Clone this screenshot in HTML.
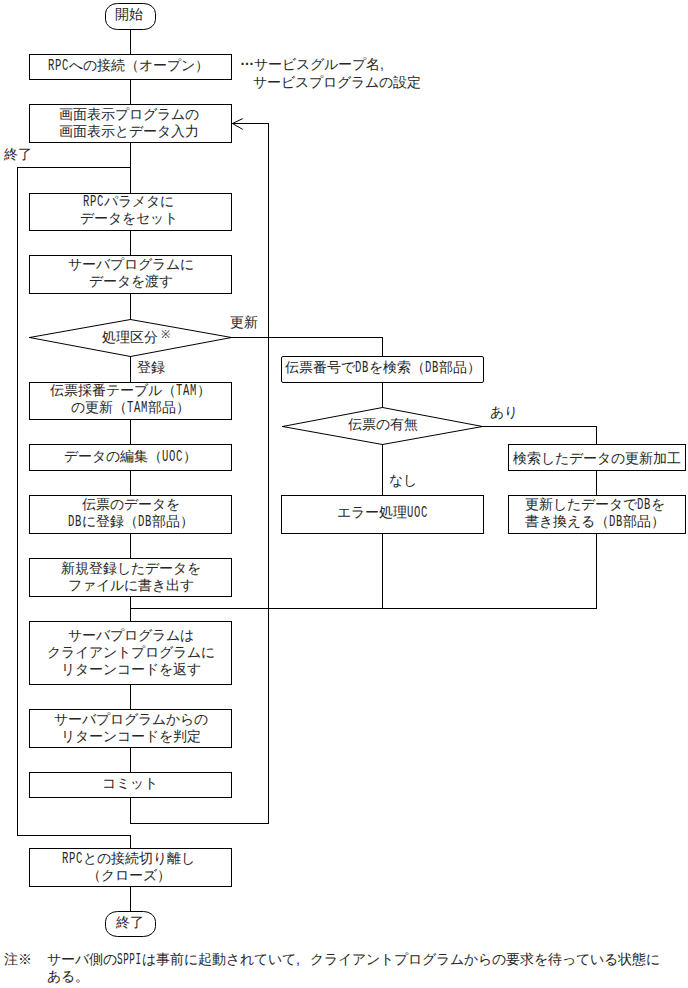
<!DOCTYPE html>
<html><head><meta charset="utf-8"><style>
html,body{margin:0;padding:0;background:#fff;}
body{width:688px;height:988px;position:relative;overflow:hidden;font-family:"Liberation Sans",sans-serif;font-size:14px;line-height:17px;color:#000;}
svg{position:absolute;left:0;top:0;}
svg rect{fill:#000;}
svg .s{fill:none;stroke:#000;stroke-width:1;}
.t{position:absolute;text-align:center;white-space:nowrap;color:#262626;}
.l{position:absolute;white-space:nowrap;color:#262626;}
.fc{display:inline-block;width:14px;text-align:left;font-family:"Liberation Sans";}
.h{display:inline-block;line-height:0;font-family:"Liberation Mono",monospace;font-size:16px;transform:scaleX(0.66);letter-spacing:1px;transform-origin:0 50%;text-align:left;}
</style></head><body>
<svg width="688" height="988" viewBox="0 0 688 988">
<rect x="130" y="29" width="1" height="26"/>
<rect x="130" y="79" width="1" height="26"/>
<rect x="130" y="142" width="1" height="52"/>
<rect x="17" y="167" width="114" height="1"/>
<rect x="17" y="167" width="1" height="669"/>
<rect x="17" y="835" width="114" height="1"/>
<rect x="130" y="835" width="1" height="14"/>
<rect x="130" y="230" width="1" height="26"/>
<rect x="130" y="293" width="1" height="27"/>
<rect x="130" y="356" width="1" height="27"/>
<rect x="130" y="419" width="1" height="26"/>
<rect x="130" y="470" width="1" height="26"/>
<rect x="130" y="533" width="1" height="26"/>
<rect x="130" y="596" width="1" height="26"/>
<rect x="130" y="684" width="1" height="26"/>
<rect x="130" y="747" width="1" height="26"/>
<rect x="130" y="797" width="1" height="27"/>
<rect x="130" y="823" width="139" height="1"/>
<rect x="268" y="123" width="1" height="701"/>
<rect x="232" y="123" width="37" height="1"/>
<rect x="130" y="886" width="1" height="26"/>
<rect x="231" y="337" width="152" height="1"/>
<rect x="382" y="337" width="1" height="20"/>
<rect x="382" y="382" width="1" height="26"/>
<rect x="382" y="444" width="1" height="52"/>
<rect x="382" y="533" width="1" height="76"/>
<rect x="130" y="608" width="467" height="1"/>
<rect x="482" y="426" width="115" height="1"/>
<rect x="596" y="426" width="1" height="19"/>
<rect x="596" y="470" width="1" height="26"/>
<rect x="596" y="533" width="1" height="76"/>
<rect class="s" x="29.5" y="54.5" width="202" height="25"/>
<rect class="s" x="29.5" y="104.5" width="202" height="38"/>
<rect class="s" x="29.5" y="193.5" width="202" height="37"/>
<rect class="s" x="29.5" y="255.5" width="202" height="38"/>
<rect class="s" x="29.5" y="382.5" width="202" height="37"/>
<rect class="s" x="29.5" y="444.5" width="202" height="26"/>
<rect class="s" x="29.5" y="495.5" width="202" height="38"/>
<rect class="s" x="29.5" y="558.5" width="202" height="38"/>
<rect class="s" x="29.5" y="621.5" width="202" height="63"/>
<rect class="s" x="29.5" y="709.5" width="202" height="38"/>
<rect class="s" x="29.5" y="772.5" width="202" height="25"/>
<rect class="s" x="29.5" y="848.5" width="202" height="38"/>
<rect class="s" x="281.5" y="495.5" width="202" height="38"/>
<rect class="s" x="508.5" y="444.5" width="177" height="26"/>
<rect class="s" x="508.5" y="495.5" width="177" height="38"/>
<rect class="s" x="281.5" y="356.5" width="202" height="26" rx="1.5"/>
<polygon class="s" points="29.5,337.5 130.5,319.5 231.5,337.5 130.5,356.5"/>
<polygon class="s" points="282.5,426.5 382.5,407.5 482.5,426.5 382.5,444.5"/>
<rect x="29" y="337" width="3" height="1"/><rect x="229" y="337" width="3" height="1"/><rect x="282" y="426" width="3" height="1"/><rect x="480" y="426" width="3" height="1"/>
<polyline class="s" points="242.7,118.6 232.5,123.5 242.7,129.4"/>
<rect class="s" x="105.5" y="3.5" width="50" height="26" rx="12" ry="10"/>
<rect class="s" x="105.5" y="911.5" width="50" height="25" rx="12" ry="10"/>
</svg>
<div class="t" style="left:28px;top:57.0px;width:201px"><span class="h" style="width:21px">RPC</span>への接続（オープン）</div>
<div class="t" style="left:28px;top:106.0px;width:201px">画面表示プログラムの<br>画面表示とデータ入力</div>
<div class="t" style="left:28px;top:193.0px;width:201px"><span class="h" style="width:21px">RPC</span>パラメタに<br>データをセット</div>
<div class="t" style="left:30px;top:256.0px;width:201px">サーバプログラムに<br>データを渡す</div>
<div class="t" style="left:30px;top:382.0px;width:201px">伝票採番テーブル（<span class="h" style="width:21px">TAM</span>）<br>の更新（<span class="h" style="width:21px">TAM</span>部品）</div>
<div class="t" style="left:30px;top:448.0px;width:201px">データの編集（<span class="h" style="width:21px">UOC</span>）</div>
<div class="t" style="left:30px;top:496.0px;width:201px">伝票のデータを<br><span class="h" style="width:14px">DB</span>に登録（<span class="h" style="width:14px">DB</span>部品）</div>
<div class="t" style="left:30px;top:560.0px;width:201px">新規登録したデータを<br>ファイルに書き出す</div>
<div class="t" style="left:30px;top:627.0px;width:201px">サーバプログラムは<br>クライアントプログラムに<br>リターンコードを返す</div>
<div class="t" style="left:30px;top:711.0px;width:201px">サーバプログラムからの<br>リターンコードを判定</div>
<div class="t" style="left:29px;top:775.0px;width:201px">コミット</div>
<div class="t" style="left:28px;top:850.0px;width:201px"><span class="h" style="width:21px">RPC</span>との接続切り離し<br>（クローズ）</div>
<div class="t" style="left:282px;top:504.0px;width:201px">エラー処理<span class="h" style="width:21px">UOC</span></div>
<div class="t" style="left:509px;top:450.0px;width:176px">検索したデータの更新加工</div>
<div class="t" style="left:507px;top:496.0px;width:176px">更新したデータで<span class="h" style="width:14px">DB</span>を<br>書き換える（<span class="h" style="width:14px">DB</span>部品）</div>
<div class="t" style="left:282px;top:359.0px;width:201px">伝票番号で<span class="h" style="width:14px">DB</span>を検索（<span class="h" style="width:14px">DB</span>部品）</div>
<div class="l" style="left:102px;top:329.0px">処理区分</div>
<div class="l" style="left:161px;top:326px;font-size:11px">※</div>
<div class="t" style="left:283px;top:416.0px;width:199px">伝票の有無</div>
<div class="t" style="left:104px;top:6.0px;width:49px">開始</div>
<div class="t" style="left:105px;top:914.0px;width:49px">終了</div>
<div class="l" style="left:4px;top:146.0px">終了</div>
<div class="l" style="left:230px;top:314.0px">更新</div>
<div class="l" style="left:137px;top:359.0px">登録</div>
<div class="l" style="left:490px;top:404.0px">あり</div>
<div class="l" style="left:389px;top:472.0px">なし</div>
<div class="l" style="left:240px;top:56.0px"><span style="display:inline-block;width:14px;position:relative;top:-4px;font-weight:bold">…</span>サービスグループ名<span class="fc">,</span></div>
<div class="l" style="left:253px;top:74.0px">サービスプログラムの設定</div>
<div class="l" style="left:4px;top:951.0px">注※</div>
<div class="l" style="left:47px;top:951.0px">サーバ側の<span class="h" style="width:25px;transform:scaleX(0.58)">SPPI</span>は事前に起動されていて<span class="fc">,</span>クライアントプログラムからの要求を待っている状態に<br>ある。</div>
</body></html>
